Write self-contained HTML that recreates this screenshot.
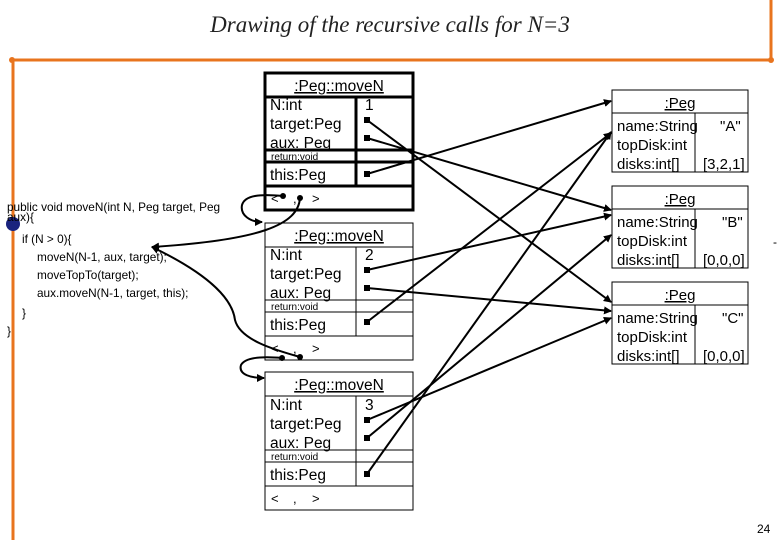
<!DOCTYPE html>
<html><head><style>
body{margin:0;width:780px;height:540px;background:#fff;overflow:hidden;position:relative;font-family:"Liberation Sans",sans-serif}
.t{position:absolute;white-space:nowrap;color:#000}
</style></head><body>
<div class="t" style="left:0;width:780px;top:12px;text-align:center;font-family:'Liberation Serif',serif;font-style:italic;font-size:23px;color:#222">Drawing of the recursive calls for N=3</div>
<svg width="780" height="540" style="position:absolute;left:0;top:0" font-family="Liberation Sans, sans-serif">
<defs><marker id="a" markerWidth="8" markerHeight="8" refX="7" refY="4" orient="auto" markerUnits="userSpaceOnUse"><path d="M0,0L8,4L0,8z"/></marker></defs>
<g stroke="#e8741e" stroke-width="3" fill="none">
<line x1="12" y1="60" x2="772" y2="60"/><line x1="13" y1="60" x2="13" y2="540"/><line x1="771" y1="0" x2="771" y2="60"/>
</g>
<circle cx="12" cy="60" r="3" fill="#e8741e"/><circle cx="771" cy="60" r="3" fill="#e8741e"/>
<circle cx="13" cy="224" r="7" fill="#1a237e"/>
<g font-size="11.8" fill="#000">
<text x="7" y="211">public void moveN(int N, Peg target, Peg</text>
<text x="7" y="221">aux){</text>
<text x="22" y="243">if (N &gt; 0){</text>
<text x="37" y="261">moveN(N-1, aux, target);</text>
<text x="37" y="279">moveTopTo(target);</text>
<text x="37" y="297">aux.moveN(N-1, target, this);</text>
<text x="22" y="317">}</text>
<text x="7" y="335">}</text>
</g>
<!-- frames -->
<g fill="none" stroke="#000">
<rect x="265" y="73" width="148" height="137" stroke-width="3"/>
<path d="M265 97H413M265 150H413M265 162H413M265 186H413M356 97V186" stroke-width="3"/>
<rect x="265" y="223" width="148" height="137"/>
<path d="M265 247H413M265 300H413M265 312H413M265 336H413M356 247V336"/>
<rect x="265" y="372" width="148" height="138"/>
<path d="M265 396H413M265 450H413M265 462H413M265 486H413M356 396V486"/>
</g>
<g font-size="15.5" fill="#000">
<text x="339" y="91" text-anchor="middle" text-decoration="underline">:Peg::moveN</text>
<text x="270" y="110">N:int</text><text x="365" y="110">1</text>
<text x="270" y="129">target:Peg</text><text x="270" y="148">aux: Peg</text>
<text x="270" y="180">this:Peg</text>
<text x="339" y="241" text-anchor="middle" text-decoration="underline">:Peg::moveN</text>
<text x="270" y="260">N:int</text><text x="365" y="260">2</text>
<text x="270" y="279">target:Peg</text><text x="270" y="298">aux: Peg</text>
<text x="270" y="330">this:Peg</text>
<text x="339" y="390" text-anchor="middle" text-decoration="underline">:Peg::moveN</text>
<text x="270" y="410">N:int</text><text x="365" y="410">3</text>
<text x="270" y="429">target:Peg</text><text x="270" y="448">aux: Peg</text>
<text x="270" y="480">this:Peg</text>
</g>
<g font-size="10" fill="#000">
<text x="271" y="160">return:void</text><text x="271" y="310">return:void</text><text x="271" y="460">return:void</text>
</g>
<g font-size="13" fill="#000">
<text x="271" y="203">&lt;</text><text x="293" y="203">,</text><text x="312" y="203">&gt;</text>
<text x="271" y="353">&lt;</text><text x="293" y="353">,</text><text x="312" y="353">&gt;</text>
<text x="271" y="503">&lt;</text><text x="293" y="503">,</text><text x="312" y="503">&gt;</text>
</g>
<!-- pegs -->
<g fill="none" stroke="#000">
<rect x="612" y="90" width="136" height="82"/><path d="M612 113H748M695 113V172"/>
<rect x="612" y="186" width="136" height="82"/><path d="M612 209H748M695 209V268"/>
<rect x="612" y="282" width="136" height="82"/><path d="M612 305H748M695 305V364"/>
</g>
<g font-size="15" fill="#000">
<text x="680" y="108" text-anchor="middle" text-decoration="underline">:Peg</text>
<text x="617" y="131">name:String</text><text x="720" y="131">"A"</text>
<text x="617" y="150">topDisk:int</text>
<text x="617" y="169">disks:int[]</text><text x="703" y="169">[3,2,1]</text>
<text x="680" y="204" text-anchor="middle" text-decoration="underline">:Peg</text>
<text x="617" y="227">name:String</text><text x="722" y="227">"B"</text>
<text x="617" y="246">topDisk:int</text>
<text x="617" y="265">disks:int[]</text><text x="703" y="265">[0,0,0]</text>
<text x="680" y="300" text-anchor="middle" text-decoration="underline">:Peg</text>
<text x="617" y="323">name:String</text><text x="722" y="323">"C"</text>
<text x="617" y="342">topDisk:int</text>
<text x="617" y="361">disks:int[]</text><text x="703" y="361">[0,0,0]</text>
</g>
<!-- connectors -->
<g stroke="#000" stroke-width="2" fill="none" marker-end="url(#a)">
<line x1="367" y1="120" x2="611" y2="302"/>
<line x1="367" y1="138" x2="611" y2="210"/>
<line x1="367" y1="174" x2="611" y2="101"/>
<line x1="367" y1="270" x2="611" y2="215"/>
<line x1="367" y1="288" x2="611" y2="311"/>
<line x1="367" y1="322" x2="611" y2="133"/>
<line x1="367" y1="420" x2="611" y2="318"/>
<line x1="367" y1="438" x2="611" y2="235"/>
<line x1="367" y1="474" x2="611" y2="132"/>
<path d="M283 196C260 194 245 195 242 205C240 215 250 222 262 222"/>
<path d="M300 198C298 225 260 240 152 247"/>
<path d="M300 357C275 350 240 340 235 320C232 295 200 270 152 247"/>
<path d="M282 358C260 356 245 358 241 365C238 375 252 378 264 378"/>
</g>
<g fill="#000">
<rect x="364" y="117" width="6" height="6"/><rect x="364" y="135" width="6" height="6"/><rect x="364" y="171" width="6" height="6"/>
<rect x="364" y="267" width="6" height="6"/><rect x="364" y="285" width="6" height="6"/><rect x="364" y="319" width="6" height="6"/>
<rect x="364" y="417" width="6" height="6"/><rect x="364" y="435" width="6" height="6"/><rect x="364" y="471" width="6" height="6"/>
<circle cx="283" cy="196" r="3"/><circle cx="300" cy="198" r="3"/><circle cx="282" cy="358" r="3"/><circle cx="300" cy="357" r="3"/>
</g>
<text x="773" y="246" font-size="12">-</text>
<text x="757" y="533" font-size="12">24</text>
</svg>
</body></html>
